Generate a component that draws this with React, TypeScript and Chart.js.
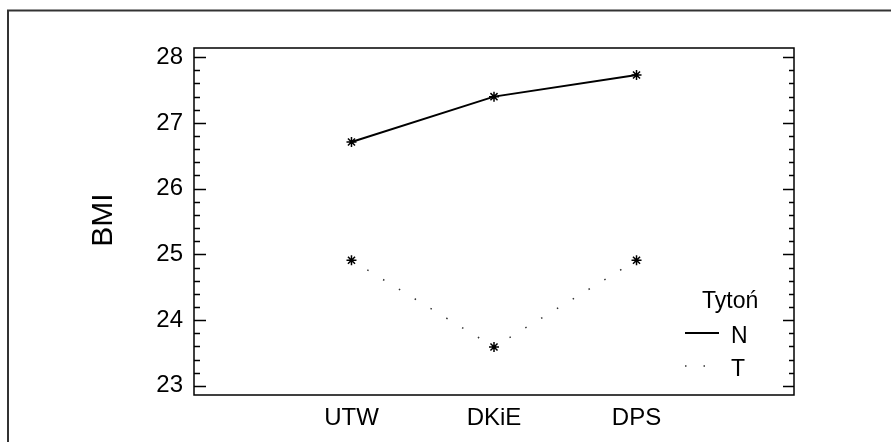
import React, { useEffect, useRef } from "react";
import { Chart, registerables } from "chart.js";

Chart.register(...registerables);

const categories = ["UTW", "DKiE", "DPS"];
const categoryPositions = [1, 2, 3];
const seriesN = [26.71, 27.4, 27.73];
const seriesT = [24.91, 23.59, 24.91];
const yTickValues = [23, 24, 25, 26, 27, 28];
const legendTitle = "Tytoń";
const seriesLabels = ["N", "T"];
const axisTitle = "BMI";

const FONT = "'Liberation Sans', Arial, sans-serif";
const NARROW = "'Liberation Sans Narrow', 'Arial Narrow', 'Liberation Sans', Arial, sans-serif";

const decorPlugin = {
  id: "decor",
  afterDraw(chart: any) {
    const ctx = chart.ctx as CanvasRenderingContext2D;
    const { left, right, top, bottom } = chart.chartArea;
    const yScale = chart.scales.y;
    ctx.save();
    // outer frame
    ctx.strokeStyle = "#333";
    ctx.lineWidth = 2;
    ctx.strokeRect(8, 10.5, 1000, 1000);
    // plot box
    ctx.strokeStyle = "#000";
    ctx.lineWidth = 1.5;
    ctx.strokeRect(left, top, right - left, bottom - top);
    // ticks (major + minor), inward on both sides
    ctx.lineWidth = 1.5;
    const first = yTickValues[0];
    const last = yTickValues[yTickValues.length - 1];
    for (let k = 0; k <= (last - first) * 5; k++) {
      const v = first + k * 0.2;
      const major = k % 5 === 0;
      const py = Math.round(yScale.getPixelForValue(v)) + 0.5;
      ctx.beginPath();
      ctx.moveTo(left, py);
      ctx.lineTo(left + (major ? 12 : 6), py);
      ctx.moveTo(right, py);
      ctx.lineTo(right - (major ? 11 : 5), py);
      ctx.stroke();
    }
    // axis title
    ctx.save();
    ctx.translate(104, 220);
    ctx.rotate(-Math.PI / 2);
    ctx.fillStyle = "#000";
    ctx.font = `30px ${FONT}`;
    ctx.textAlign = "center";
    ctx.textBaseline = "middle";
    ctx.fillText(axisTitle, 0, 0);
    ctx.restore();
    // legend
    ctx.fillStyle = "#000";
    ctx.font = `23px ${NARROW}`;
    ctx.textAlign = "left";
    ctx.textBaseline = "alphabetic";
    ctx.fillText(legendTitle, 702, 308);
    const ds = chart.data.datasets;
    const rowsY = [335, 368];
    ds.forEach((d: any, i: number) => {
      const y = rowsY[i];
      ctx.fillStyle = "#000";
      ctx.fillText(d.label, 731, y + 8);
      ctx.save();
      ctx.strokeStyle = d.borderColor;
      ctx.lineWidth = d.borderWidth;
      ctx.setLineDash(d.borderDash || []);
      ctx.beginPath();
      ctx.moveTo(685, y - 2);
      ctx.lineTo(719, y - 2);
      ctx.stroke();
      ctx.restore();
    });
    ctx.restore();
  },
};

export default function App() {
  const ref = useRef<HTMLCanvasElement>(null);
  useEffect(() => {
    if (!ref.current) return;
    const toPts = (vals: number[]) => categoryPositions.map((x, i) => ({ x, y: vals[i] }));
    const chart = new Chart(ref.current, {
      type: "line",
      data: {
        datasets: [
          {
            label: seriesLabels[0],
            data: toPts(seriesN),
            borderColor: "#000",
            borderWidth: 2,
            pointStyle: "star",
            pointRadius: 5,
            pointBorderWidth: 1.5,
            pointBorderColor: "#000",
            pointBackgroundColor: "#000",
            tension: 0,
          },
          {
            label: seriesLabels[1],
            data: toPts(seriesT),
            borderColor: "#333",
            borderWidth: 1.5,
            borderDash: [1.5, 17],
            pointStyle: "star",
            pointRadius: 5,
            pointBorderWidth: 1.5,
            pointBorderColor: "#000",
            pointBackgroundColor: "#000",
            tension: 0,
          },
        ],
      },
      options: {
        animation: false,
        responsive: false,
        layout: { padding: { left: 0, top: 48, right: 97, bottom: 0 } },
        plugins: { legend: { display: false }, tooltip: { enabled: false } },
        scales: {
          x: {
            type: "linear",
            min: -0.105,
            max: 4.105,
            grid: { display: false, drawTicks: false },
            border: { display: false },
            afterFit: (s: any) => { s.height = 47; },
            afterBuildTicks: (s: any) => { s.ticks = categoryPositions.map((v) => ({ value: v })); },
            ticks: {
              color: "#000",
              font: { family: FONT, size: 24 },
              padding: 9,
              maxRotation: 0,
              callback: (v: any) => categories[categoryPositions.indexOf(Number(v))] ?? "",
            },
          },
          y: {
            type: "linear",
            min: 22.86,
            max: 28.14,
            grid: { display: false, drawTicks: false },
            border: { display: false },
            afterFit: (s: any) => { s.width = 194; },
            afterBuildTicks: (s: any) => { s.ticks = yTickValues.map((v) => ({ value: v })); },
            ticks: {
              color: "#000",
              font: { family: FONT, size: 24 },
              padding: 11,
            },
          },
        },
      },
      plugins: [decorPlugin],
    });
    return () => chart.destroy();
  }, []);
  return (
    <div style={{ position: "absolute", left: 0, top: 0, width: 891, height: 442, background: "#fff" }}>
      <canvas ref={ref} width={891} height={442} style={{ display: "block" }} />
    </div>
  );
}
